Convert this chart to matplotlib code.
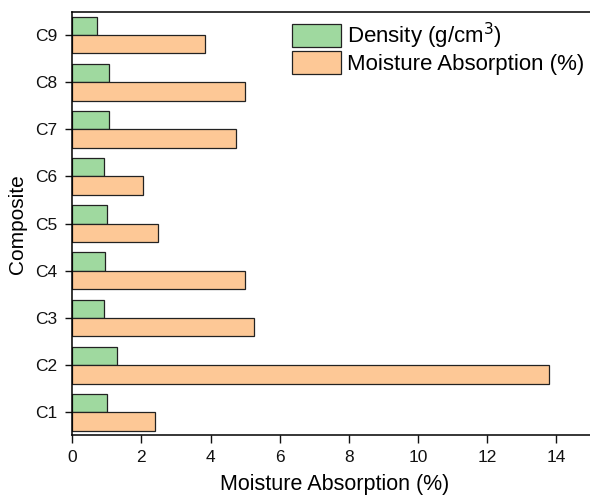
import matplotlib
matplotlib.use("Agg")
import matplotlib.pyplot as plt
import numpy as np

plt.rcParams['font.family'] = ['Liberation Sans', 'DejaVu Sans']

categories = ["C1", "C2", "C3", "C4", "C5", "C6", "C7", "C8", "C9"]
density = [0.99, 1.29, 0.91, 0.96, 0.99, 0.91, 1.06, 1.05, 0.72]
moisture = [2.38, 13.8, 5.26, 5.0, 2.49, 2.04, 4.75, 5.0, 3.85]
xticks = [0, 2, 4, 6, 8, 10, 12, 14]

W, H = 590, 499
fig = plt.figure(figsize=(W / 100, H / 100), dpi=100)
ax = fig.add_axes([72.3 / W, (H - 435) / H, (W - 72.3) / W, (435 - 12.3) / H])

y = np.arange(len(categories))
h = 0.39
ax.barh(y + h / 2, density, height=h, color="#9fd99f", edgecolor="#222222",
        linewidth=0.9, label="Density (g/cm$^3$)")
ax.barh(y - h / 2, moisture, height=h, color="#fdc896", edgecolor="#222222",
        linewidth=0.9, label="Moisture Absorption (%)")

ax.set_xlim(0, 14.98)
ax.set_ylim(-0.48, 8.48)
ax.set_xticks(xticks)
ax.set_yticks(y)
ax.set_yticklabels(categories)
ax.tick_params(axis="both", direction="out", width=1, labelsize=12.5, colors="#111111")
ax.tick_params(axis="x", length=6, pad=5)
ax.tick_params(axis="y", length=5.3, pad=5.5)
ax.spines["right"].set_visible(False)
for s in ["top", "bottom", "left"]:
    ax.spines[s].set_linewidth(1.1)

ax.set_ylabel("Composite", fontsize=15, labelpad=6)
ax.set_xlabel("Moisture Absorption (%)", fontsize=15.5)
ax.xaxis.set_label_coords(0.507, -0.092)

ax.legend(loc="upper left", bbox_to_anchor=(0.4238, 0.981), frameon=False, fontsize=16,
          handlelength=2.2, handleheight=1.2, handletextpad=0.3, labelspacing=0.02,
          borderaxespad=0.0, borderpad=0.0)

fig.savefig("out.png", dpi=100)
